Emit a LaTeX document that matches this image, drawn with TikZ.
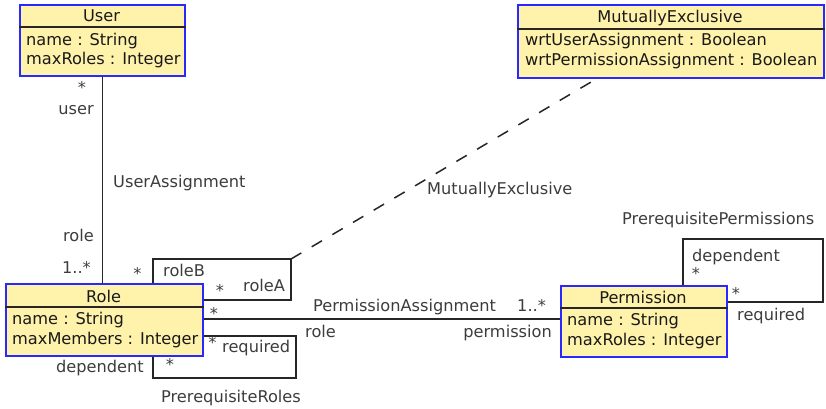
\documentclass[tikz,border=0pt]{standalone}
\usepackage{fontspec}
\setmainfont{DejaVu Sans}
\definecolor{classfill}{RGB}{255,242,170}
\definecolor{classborder}{RGB}{40,40,255}
\definecolor{labelgray}{RGB}{60,60,60}
\tikzset{
  classbox/.style={draw=classborder, fill=classfill, line width=1.5pt,
    anchor=north west, inner sep=0pt},
  sepline/.style={line width=1.5pt, black!85},
  txt/.style={font=\fontsize{16.2pt}{19pt}\selectfont, inner sep=0pt},
  ctitle/.style={txt, text=black!90, anchor=base},
  cattr/.style={txt, text=black!90, anchor=base west},
  lbl/.style={txt, text=labelgray, anchor=base west},
  lblr/.style={txt, text=labelgray, anchor=base east},
  mult/.style={txt, text=labelgray, anchor=base},
  assoc/.style={line width=1.5pt, black!85},
  dashassoc/.style={line width=1.5pt, black!85, dash pattern=on 12pt off 12pt},
}
\begin{document}
\begin{tikzpicture}[x=1pt,y=-1pt]
\useasboundingbox (0,0) rectangle (826,408);

% ---- classes ----
\node[classbox, minimum width=165pt, minimum height=71pt] (user) at (19,4) {};
\draw[sepline] ([yshift=-23pt]user.north west) -- ([yshift=-23pt]user.north east);
\node[ctitle] (userT) at (101.5,21) {User};
\node[cattr] (userA1) at (26,45) {name : String};
\node[cattr] (userA2) at (26,64) {maxRoles : Integer};

\node[classbox, minimum width=306pt, minimum height=73pt] (mutex) at (517,4) {};
\draw[sepline] ([yshift=-25pt]mutex.north west) -- ([yshift=-25pt]mutex.north east);
\node[ctitle] (mutexT) at (670,22) {MutuallyExclusive};
\node[cattr] (mutexA1) at (525,45) {wrtUserAssignment : Boolean};
\node[cattr] (mutexA2) at (525,65) {wrtPermissionAssignment : Boolean};

\node[classbox, minimum width=197pt, minimum height=72pt] (role) at (5,283) {};
\draw[sepline] ([yshift=-24pt]role.north west) -- ([yshift=-24pt]role.north east);
\node[ctitle] (roleT) at (103.5,302) {Role};
\node[cattr] (roleA1) at (12,324) {name : String};
\node[cattr] (roleA2) at (12,344) {maxMembers : Integer};

\node[classbox, minimum width=166pt, minimum height=71pt] (perm) at (560,285) {};
\draw[sepline] ([yshift=-23pt]perm.north west) -- ([yshift=-23pt]perm.north east);
\node[ctitle] (permT) at (643,303) {Permission};
\node[cattr] (permA1) at (567,325) {name : String};
\node[cattr] (permA2) at (567,345) {maxRoles : Integer};

% ---- associations ----
% UserAssignment
\draw[assoc] (user.south) -- (user.south |- role.north);
% MutuallyExclusive self association on Role
\coordinate (meCorner) at (291,259);
\draw[assoc] ([xshift=148pt]role.north west) |- (meCorner) |- ([yshift=-17pt]role.north east);
\draw[dashassoc] (meCorner) -- ([xshift=80pt]mutex.south west);
% PermissionAssignment
\draw[assoc] ([yshift=-36pt]role.north east) -- ([yshift=-36pt]role.north east -| perm.west);
% PrerequisiteRoles
\coordinate (prCorner) at (296,378);
\draw[assoc] ([yshift=-53pt]role.north east) -| (prCorner) -| ([xshift=148pt]role.south west);
% PrerequisitePermissions
\coordinate (ppCorner) at (823,239);
\draw[assoc] ([xshift=123pt]perm.north west) |- (ppCorner) |- ([yshift=-17pt]perm.north east);

% ---- association labels ----
\node[mult] (mUser) at (82,93) {*};
\node[lblr] (lUser) at (94,114) {user};
\node[lbl] (lUA) at (113,187) {UserAssignment};
\node[lblr] (lRole1) at (94,241) {role};
\node[lblr] (mRole1) at (91,273) {1..*};

\node[mult] (mRoleB) at (137.5,279) {*};
\node[lbl] (lRoleB) at (163,276) {roleB};
\node[mult] (mRoleA) at (220,296) {*};
\node[lbl] (lRoleA) at (243,291) {roleA};
\node[lbl] (lME) at (427,194) {MutuallyExclusive};

\node[mult] (mPA1) at (214,319) {*};
\node[lbl] (lPA) at (313,311) {PermissionAssignment};
\node[lbl] (mPA2) at (517,311) {1..*};
\node[lbl] (lRole2) at (305,337) {role};
\node[lblr] (lPerm) at (552,337) {permission};

\node[mult] (mReqR) at (212.5,348) {*};
\node[lbl] (lReqR) at (222,352) {required};
\node[lblr] (lDepR) at (144,372) {dependent};
\node[mult] (mDepR) at (170,370) {*};
\node[lbl] (lPR) at (161,402) {PrerequisiteRoles};

\node[lbl] (lPP) at (622,224) {PrerequisitePermissions};
\node[lbl] (lDepP) at (692,261) {dependent};
\node[mult] (mDepP) at (696,279) {*};
\node[mult] (mReqP) at (736,299) {*};
\node[lbl] (lReqP) at (737,320) {required};
\end{tikzpicture}
\end{document}
